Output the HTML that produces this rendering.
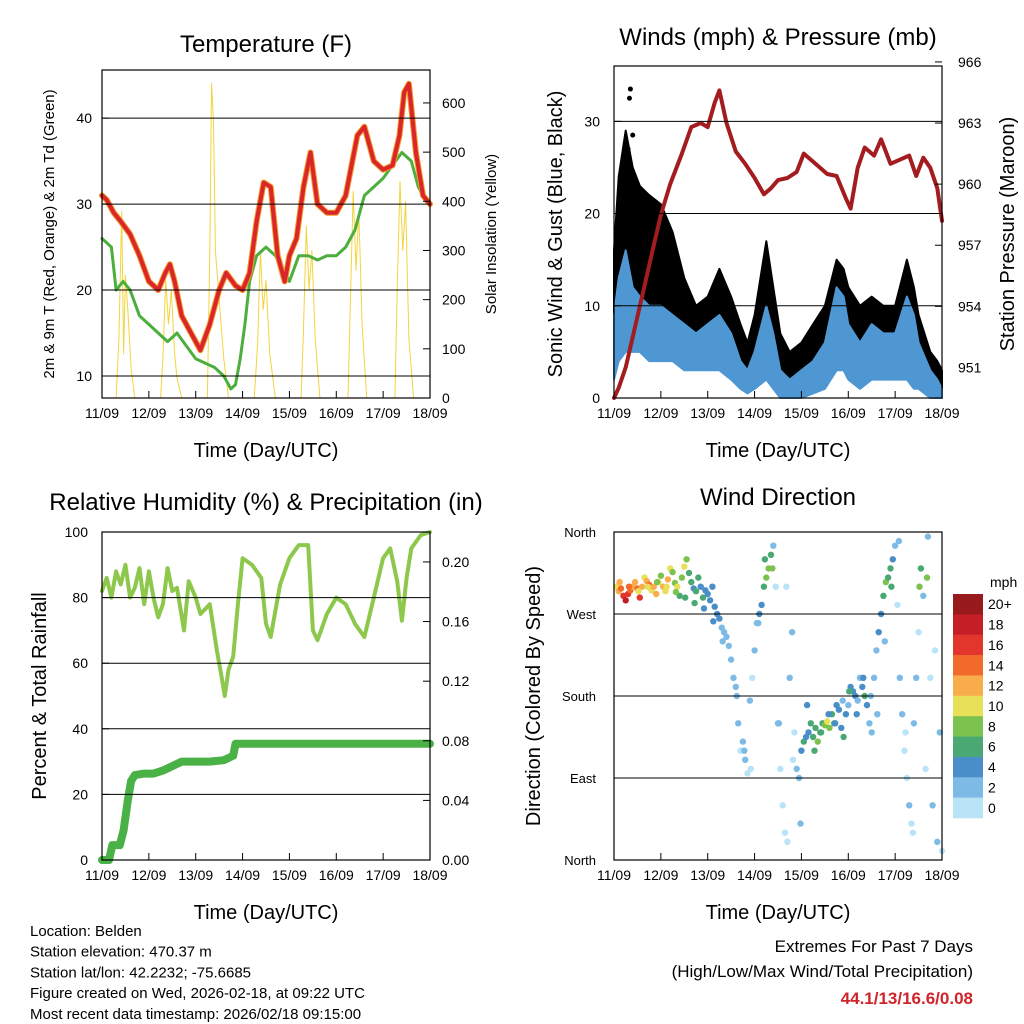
<!DOCTYPE html>
<html><head><meta charset="utf-8">
<style>
html,body{margin:0;padding:0;background:#fff;}
svg{display:block;font-family:"Liberation Sans",sans-serif;}
</style></head>
<body>
<svg id="c" width="1024" height="1024" viewBox="0 0 1024 1024"></svg>
<script>
// ---------- data ----------
const dayLabels = ["11/09","12/09","13/09","14/09","15/09","16/09","17/09","18/09"];
// Temperature (F)
const tempT = [0,0.1,0.25,0.4,0.6,0.8,1.0,1.2,1.35,1.45,1.55,1.7,1.9,2.0,2.1,2.3,2.5,2.65,2.85,3.0,3.15,3.3,3.45,3.6,3.75,3.9,4.0,4.15,4.3,4.45,4.6,4.8,5.0,5.2,5.45,5.6,5.8,6.0,6.2,6.35,6.45,6.55,6.7,6.85,7.0];
const tempV = [31,30.5,29,28,26.5,24,21,20,22,23,21,17,15,14,13,16,20,22,20.5,20,22,28,32.5,32,24,21,24,26,32,36,30,29,29,31,38,39,35,34,34.5,38,43,44,36,31,30];
const dewT = [0,0.1,0.2,0.3,0.45,0.6,0.8,1.0,1.2,1.4,1.6,1.8,2.0,2.2,2.4,2.6,2.75,2.85,2.95,3.05,3.15,3.3,3.5,3.7,3.85,4.0,4.2,4.4,4.6,4.8,5.0,5.2,5.4,5.6,5.8,6.0,6.2,6.4,6.6,6.75,6.9,7.0];
const dewV = [26,25.5,25,20,21,20,17,16,15,14,15,13.5,12,11.5,11,10,8.5,9,12,16,21,24,25,24,22.5,21,24,24,23.5,24,24,25,27,31,32,33,34.5,36,35,32,30.5,30];
// Solar insolation (W/m2)
const solT = [0,0.3,0.36,0.42,0.46,0.5,0.55,0.62,0.7,1.25,1.3,1.36,1.42,1.48,1.55,1.6,1.7,2.25,2.3,2.34,2.38,2.42,2.5,2.6,2.7,3.25,3.32,3.38,3.44,3.5,3.58,3.7,4.25,4.3,4.36,4.42,4.48,4.55,4.65,5.25,5.3,5.36,5.42,5.48,5.55,5.65,6.25,6.3,6.36,6.42,6.48,6.55,6.65,7.0];
const solV = [0,0,120,380,90,250,180,60,0,0,80,240,150,220,90,40,0,0,300,640,560,300,200,80,0,0,110,300,180,240,90,0,0,140,350,220,300,120,0,0,190,420,260,380,150,0,0,220,440,300,400,120,0,0];
// Winds (mph)
const windT = [0,0.1,0.25,0.4,0.55,0.75,1.0,1.25,1.5,1.75,2.0,2.25,2.5,2.7,2.85,3.0,3.25,3.4,3.55,3.75,4.0,4.25,4.5,4.75,4.9,5.0,5.25,5.5,5.75,6.0,6.25,6.4,6.5,6.75,6.9,7.0];
const gustHi = [16,24,29,25,23,22,21,18,13,10,11,14,11,8,6,9,17,12,7,5,6,8,10,15,14,12,10,11,10,10,15,12,9,5,4,3];
const gustLo = [3,6,9,8,8,7,7,6,5,4,4,5,4,2,1,2,4,2,1,0,0.5,1,3,5,5,4,3,4,4,3,4,3,2,0.5,0,0];
const windHi = [9,13,16,12,11,10,10,9,8,7,8,9,7,4,3,5,10,7,3,2,3,4,6,12,11,8,6,8,7,7,11,9,6,3,2,1];
const windLo = [2,4,5,5,5,4,4,4,3,3,3,3,2,1,0.5,1,2,1,0,0,0,0.5,1,3,3,2,1,2,2,2,2,1,1,0,0,0];
// Station pressure (mb)
const presT = [0,0.1,0.25,0.45,0.65,0.85,1.0,1.2,1.45,1.65,1.85,2.0,2.15,2.25,2.4,2.6,2.8,3.0,3.2,3.35,3.5,3.7,3.9,4.05,4.3,4.55,4.75,4.95,5.05,5.2,5.35,5.55,5.7,5.9,6.1,6.3,6.45,6.6,6.75,6.9,7.0];
const presV = [949.5,950,951,953,955,957,958.5,960,961.5,962.8,963,962.8,964,964.6,963,961.6,961,960.3,959.5,959.8,960.2,960.3,960.6,961.5,961,960.5,960.4,959.3,958.8,960.8,961.8,961.4,962.2,961,961.2,961.4,960.4,961.3,960.8,959.8,958.2];
// Relative humidity (%)
const rhT = [0,0.1,0.2,0.3,0.4,0.5,0.6,0.7,0.8,0.9,1.0,1.1,1.2,1.3,1.4,1.5,1.6,1.75,1.85,2.0,2.1,2.3,2.45,2.55,2.62,2.7,2.8,2.9,3.0,3.2,3.4,3.5,3.6,3.8,4.0,4.2,4.4,4.5,4.6,4.8,5.0,5.2,5.4,5.6,5.8,6.0,6.15,6.3,6.4,6.5,6.6,6.8,7.0];
const rhV = [82,86,80,88,84,90,80,83,89,78,88,80,74,78,89,82,83,70,85,80,75,78,64,56,50,58,62,78,92,90,86,72,68,84,92,96,96,70,67,75,80,78,72,68,80,92,95,85,73,86,95,99,100];
// Total precipitation (in)
const prT = [0,0.15,0.22,0.38,0.46,0.55,0.62,0.7,0.9,1.1,1.3,1.5,1.7,2.3,2.6,2.8,2.85,7.0];
const prV = [0,0,0.01,0.01,0.02,0.04,0.053,0.057,0.058,0.058,0.06,0.063,0.066,0.066,0.067,0.07,0.078,0.078];
// Wind direction (deg, 0=N), speed (mph) — rows of 10
const dirT = [
 0.05,0.1,0.15,0.2,0.25,0.3,0.35,0.4,0.45,0.5,
 0.55,0.6,0.65,0.7,0.75,0.8,0.85,0.9,0.95,1.0,
 1.05,1.1,1.15,1.2,1.25,1.3,1.35,1.4,1.45,1.5,
 1.55,1.6,1.65,1.7,1.75,1.8,1.85,1.9,1.95,2.0,
 2.05,2.1,2.15,2.2,2.25,2.3,2.35,2.4,2.45,2.5,
 2.55,2.6,2.65,2.7,2.75,2.8,2.85,2.9,2.95,3.0,
 3.05,3.1,3.15,3.2,3.25,3.3,3.35,3.4,3.45,3.5,
 3.55,3.6,3.65,3.7,3.75,3.8,3.85,3.9,3.95,4.0,
 4.05,4.1,4.15,4.2,4.25,4.3,4.35,4.4,4.45,4.5,
 4.55,4.6,4.65,4.7,4.75,4.8,4.85,4.9,4.95,5.0,
 5.05,5.1,5.15,5.2,5.25,5.3,5.35,5.4,5.45,5.5,
 5.55,5.6,5.65,5.7,5.75,5.8,5.85,5.9,5.95,6.0,
 6.05,6.1,6.15,6.2,6.25,6.3,6.35,6.4,6.45,6.5,
 0.12,0.32,0.52,0.72,0.92,1.12,1.32,1.52,1.72,1.92,
 2.12,2.32,2.62,2.78,2.92,3.08,3.22,3.38,3.52,3.68,
 3.82,3.98,4.12,4.28,4.42,4.58,4.72,4.88,5.02,5.18,
 5.32,5.48,5.62,5.78,5.92,6.08,6.22,6.38,6.52,6.68,
 6.55,6.6,6.65,6.7,6.75,6.8,6.85,6.9,6.95,7.0];
const dirV = [
 300,295,298,290,285,292,296,300,305,298,
 288,300,310,306,302,296,300,292,305,312,
 300,295,308,320,316,304,300,290,310,322,
 330,315,305,298,295,310,300,288,296,292,
 285,300,278,270,265,255,250,245,235,220,
 200,190,150,120,130,110,95,175,200,230,
 260,270,280,300,310,320,335,345,300,150,
 100,60,30,20,200,250,140,100,90,120,
 130,135,140,150,135,145,130,140,150,148,
 152,145,160,150,170,165,145,135,160,170,
 190,185,180,175,200,190,180,170,150,140,
 200,230,250,270,290,305,310,320,330,345,
 280,200,160,120,90,60,40,150,200,250,
 305,300,295,300,305,300,294,288,282,276,
 262,240,180,120,100,260,330,320,150,300,
 110,40,170,120,140,160,150,175,185,160,
 200,180,160,240,300,350,140,30,300,310,
 320,290,100,355,200,60,230,20,140,10];
const dirS = [
 10,12,14,16,18,15,13,11,12,14,
 16,12,10,11,13,9,11,12,10,8,
 11,9,12,10,8,7,9,6,7,9,
 8,6,5,4,5,6,4,5,4,3,
 4,3,4,3,3,2,2,1,2,1,
 1,1,1,0,1,2,0,1,0,1,
 2,3,4,5,7,8,6,1,0,1,
 0,0,0,0,1,2,0,1,2,4,
 5,3,4,5,6,6,7,6,5,8,
 9,7,6,5,4,3,4,5,3,2,
 4,3,4,2,1,4,5,3,2,1,
 1,2,3,4,6,7,6,5,3,1,
 0,1,1,0,0,1,0,2,1,0,
 12,14,9,10,8,9,7,6,5,4,
 3,2,1,1,0,1,6,7,1,0,
 0,1,3,5,6,4,3,2,5,4,
 3,1,2,1,6,1,0,0,8,7,
 6,1,0,1,0,1,0,2,1,0];
const cbLabels = ["20+","18","16","14","12","10","8","6","4","2","0"];
const cbColors = ["#981a1d","#c41e26","#e2352b","#f16a2b","#f9ad4a","#e7e058","#7cc24f","#4aa872","#4a8ec8","#7dbbe6","#b9e3f7"];

// ---------- helpers ----------
const NS = "http://www.w3.org/2000/svg";
const svg = document.getElementById("c");
function el(tag, parent){ const e=document.createElementNS(NS,tag); (parent||svg).appendChild(e); return e; }
function setA(e,o){ for(const k in o) e.setAttribute(k,o[k]); return e; }
function txt(s,x,y,size,anchor,parent,extra){
  const t=el("text",parent); setA(t,{x:x,y:y,"font-size":size,"text-anchor":anchor||"middle",fill:"#000"});
  if(extra) setA(t,extra); t.textContent=s; return t;
}
function mkScale(d0,d1,r0,r1){ return v=> r0+(v-d0)/(d1-d0)*(r1-r0); }

const panels = {
  temp:{x0:102,x1:430,y0:70,y1:398},
  wind:{x0:614,x1:942,y0:66,y1:398},
  rh:{x0:102,x1:430,y0:532,y1:860},
  dir:{x0:614,x1:942,y0:532,y1:860}
};

function frame(p,g){
  const r=el("rect",g); setA(r,{x:p.x0,y:p.y0,width:p.x1-p.x0,height:p.y1-p.y0,fill:"none",stroke:"#000","stroke-width":1.2});
  
  
  const xs=mkScale(0,7,p.x0,p.x1);
  for(let i=0;i<dayLabels.length;i++){
    const x=xs(i);
    const tk=el("line",g); setA(tk,{x1:x,x2:x,y1:p.y1,y2:p.y1-7,stroke:"#000"});
    
    
    const t=txt(dayLabels[i],x,p.y1+20,14,"middle",g);
    
    
  }
  const xl=txt("Time (Day/UTC)",(p.x0+p.x1)/2,p.y1+59,20,"middle",g);
  
  
  return xs;
}
function hgrid(p,g,ys,vals,labels,side,lx,fs){
  vals.forEach((v,i)=>{
    const y=ys(v);
    if(side==="left" && y>p.y0+2 && y<p.y1-2){
      const gl=el("line",g); setA(gl,{x1:p.x0,x2:p.x1,y1:y,y2:y,stroke:"#000","stroke-width":1});
      
      
    }
    const tk=el("line",g);
    if(side==="left") setA(tk,{x1:p.x0,x2:p.x0+7,y1:y,y2:y,stroke:"#000"});
    else setA(tk,{x1:p.x1,x2:p.x1-7,y1:y,y2:y,stroke:"#000"});
    
    
    const t=txt(labels[i],lx,y+5,fs||14,side==="left"?"end":"start",g);
    
    
  });
}
function poly(g,xs,ys,T,V,color,w,name){
  const pl=el("polyline",g);
  setA(pl,{points:T.map((t,i)=>xs(t).toFixed(1)+","+ys(V[i]).toFixed(1)).join(" "),fill:"none",stroke:color,"stroke-width":w,"stroke-linejoin":"round","stroke-linecap":"round"});
  
  
  return pl;
}
function band(g,xs,ys,T,hi,lo,color,name){
  const pts=T.map((t,i)=>xs(t).toFixed(1)+","+ys(hi[i]).toFixed(1));
  for(let i=T.length-1;i>=0;i--) pts.push(xs(T[i]).toFixed(1)+","+ys(lo[i]).toFixed(1));
  const pg=el("polygon",g); setA(pg,{points:pts.join(" "),fill:color,stroke:color,"stroke-width":2,"stroke-linejoin":"round"});
  
  
}
function title(s,x,y,g){
  const t=txt(s,x,y,24,"middle",g);
  
  
}
function ytitle(s,x,y,size,g,name){
  const t=txt(s,x,y,size,"middle",g,{transform:"rotate(-90 "+x+" "+y+")"});
  
  
}

// ---------- Temperature panel ----------
(function(){
  const p=panels.temp;
  const g=el("g");  
  const xs=mkScale(0,7,p.x0,p.x1);
  const yL=mkScale(7.44,45.6,p.y1,p.y0);
  const yR=mkScale(0,667,p.y1,p.y0);
  poly(g,xs,yR,solT,solV,"#f3d43c",1,"solar-insolation-line");
  poly(g,xs,yL,dewT,dewV,"#4cae3c",3,"dewpoint-line");
  poly(g,xs,yL,tempT,tempV,"#f59a2a",6,"temp-9m-line");
  poly(g,xs,yL,tempT,tempV,"#d8262b",4,"temp-2m-line");
  frame(p,g);
  hgrid(p,g,yL,[10,20,30,40],["10","20","30","40"],"left",p.x0-10);
  hgrid(p,g,yR,[0,100,200,300,400,500,600],["0","100","200","300","400","500","600"],"right",p.x1+12);
  title("Temperature (F)",266,52,g);
  ytitle("2m & 9m T (Red, Orange) & 2m Td (Green)",54,234,15,g,"y-axis-title-left");
  ytitle("Solar Insolation (Yellow)",496,234,15,g,"y-axis-title-right");
})();

// ---------- Winds panel ----------
(function(){
  const p=panels.wind;
  const g=el("g");  
  const xs=mkScale(0,7,p.x0,p.x1);
  const yL=mkScale(0,36,p.y1,p.y0);
  const yR=mkScale(949.5,965.8,p.y1,p.y0);
  band(g,xs,yL,windT,gustHi,gustLo,"#000","gust-cloud");
  band(g,xs,yL,windT,windHi,windLo,"#4f97d3","wind-cloud");
  const gustPtT=[0.35,0.33,0.4,0.3];
  const gustPtV=[33.5,32.5,28.5,27];
  gustPtT.forEach((t,i)=>{const c=el("circle",g); setA(c,{cx:xs(t),cy:yL(gustPtV[i]),r:2.5,fill:"#000"});
    
    });
  poly(g,xs,yR,presT,presV,"#a31c1f",4,"pressure-line");
  frame(p,g);
  hgrid(p,g,yL,[0,10,20,30],["0","10","20","30"],"left",p.x0-14);
  hgrid(p,g,yR,[951,954,957,960,963,966],["951","954","957","960","963","966"],"right",p.x1+16);
  title("Winds (mph) & Pressure (mb)",778,45,g);
  ytitle("Sonic Wind & Gust (Blue, Black)",562,234,20,g,"y-axis-title-left");
  ytitle("Station Pressure (Maroon)",1014,234,20,g,"y-axis-title-right");
})();

// ---------- RH panel ----------
(function(){
  const p=panels.rh;
  const g=el("g");  
  const xs=mkScale(0,7,p.x0,p.x1);
  const yL=mkScale(0,100,p.y1,p.y0);
  const yR=mkScale(0,0.2201,p.y1,p.y0);
  poly(g,xs,yL,rhT,rhV,"#8dc84d",4,"humidity-line");
  poly(g,xs,yR,prT,prV,"#49b145",8,"precip-line");
  frame(p,g);
  hgrid(p,g,yL,[0,20,40,60,80,100],["0","20","40","60","80","100"],"left",p.x0-14);
  hgrid(p,g,yR,[0,0.04,0.08,0.12,0.16,0.20],["0.00","0.04","0.08","0.12","0.16","0.20"],"right",p.x1+12);
  title("Relative Humidity (%) & Precipitation (in)",266,510,g);
  ytitle("Percent & Total Rainfall",46,696,20,g,"y-axis-title-left");
})();

// ---------- Wind direction panel ----------
(function(){
  const p=panels.dir;
  const g=el("g");  
  const xs=mkScale(0,7,p.x0,p.x1);
  const ys=mkScale(0,360,p.y1,p.y0);
  const col=s=>cbColors[10-Math.min(10,Math.max(0,Math.round(s/2)))];
  const n=Math.min(dirT.length,dirV.length,dirS.length);
  for(let i=0;i<n;i++){
    const c=el("circle",g); setA(c,{cx:xs(dirT[i]).toFixed(1),cy:ys(dirV[i]).toFixed(1),r:3.2,fill:col(dirS[i])});
    
    
  }
  frame(p,g);
  hgrid(p,g,ys,[0,90,180,270,360],["North","East","South","West","North"],"left",p.x0-18,13);
  title("Wind Direction",778,505,g);
  ytitle("Direction (Colored By Speed)",540,696,20,g,"y-axis-title-left");
  const cb=el("g");  
  const by0=594,bh=224/cbColors.length;
  cbColors.forEach((c,i)=>{
    const r=el("rect",cb); setA(r,{x:953,y:by0+i*bh,width:30,height:bh+0.3,fill:c});
    
    
    const t=txt(cbLabels[i],988,by0+i*bh+bh/2+5,14,"start",cb);
    
    
  });
  const u=txt("mph",990,587,14,"start",cb);
  
  
})();

// ---------- footer text ----------
const info=["Location: Belden","Station elevation: 470.37 m","Station lat/lon: 42.2232; -75.6685","Figure created on Wed, 2026-02-18, at 09:22 UTC","Most recent data timestamp: 2026/02/18 09:15:00"];
info.forEach((s,i)=>{
  const t=txt(s,30,936+i*20.7,15,"start");
  
  
});
const e1=txt("Extremes For Past 7 Days",973,952,17,"end");


const e2=txt("(High/Low/Max Wind/Total Precipitation)",973,977,17,"end");


const e3=txt("44.1/13/16.6/0.08",973,1004,17,"end",null,{fill:"#d0242b","font-weight":"bold"});


</script>
</body></html>
